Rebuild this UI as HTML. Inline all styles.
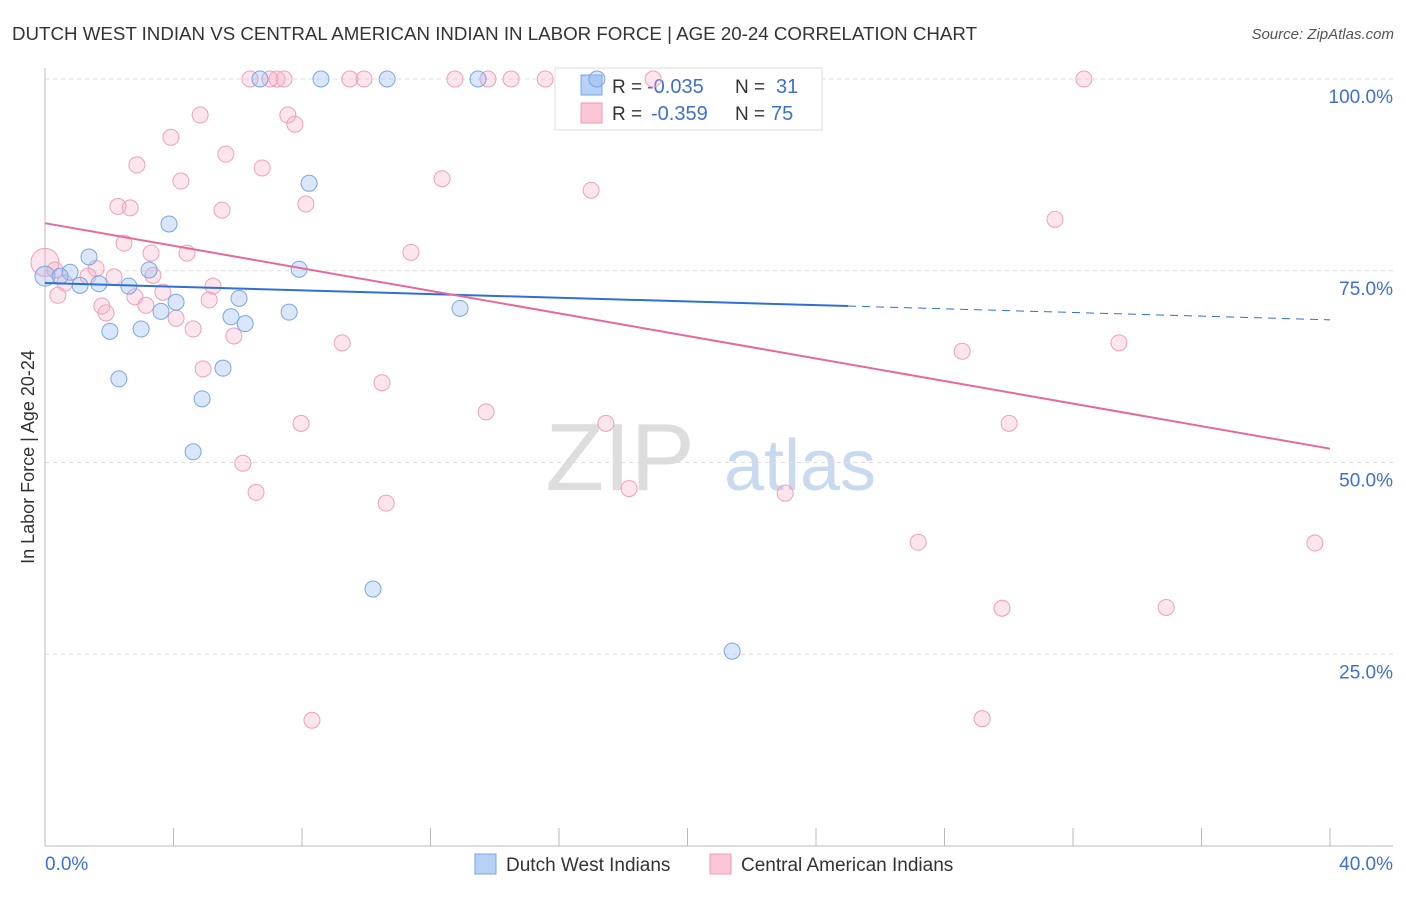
<!DOCTYPE html>
<html><head><meta charset="utf-8"><style>
body{margin:0;background:#fff;font-family:"Liberation Sans",sans-serif;}
svg text{font-family:"Liberation Sans",sans-serif;}
</style></head><body>
<svg id="chart" width="1406" height="892" xmlns="http://www.w3.org/2000/svg">
<text x="12" y="40" font-size="18" fill="#333" textLength="965" lengthAdjust="spacingAndGlyphs">DUTCH WEST INDIAN VS CENTRAL AMERICAN INDIAN IN LABOR FORCE | AGE 20-24 CORRELATION CHART</text>
<text x="1394" y="39" font-size="15" fill="#555" text-anchor="end" font-style="italic">Source: ZipAtlas.com</text>
<text x="620" y="490" font-size="96" fill="#ddd" font-family="Liberation Serif" text-anchor="middle">ZIP</text>
<text x="800" y="490" font-size="72" fill="#c9d9f0" text-anchor="middle">atlas</text>
<g id="grid"></g><g id="axes"></g>
<g>
<rect x="555" y="68" width="267" height="62" fill="#fff" stroke="#ddd"/>
<rect x="581" y="75" width="21" height="20" fill="#b7d0f5" stroke="#7aa5e8"/>
<rect x="581" y="103" width="21" height="20" fill="#fbc6d6" stroke="#f09ab5"/>
<text x="612" y="93" font-size="19" fill="#333">R =</text>
<text x="647" y="93" font-size="20" fill="#3d6fd4">-0.035</text>
<text x="735" y="93" font-size="19" fill="#333">N =</text>
<text x="776" y="93" font-size="20" fill="#3d6fd4">31</text>
<text x="612" y="120" font-size="19" fill="#333">R =</text>
<text x="651" y="120" font-size="20" fill="#3d6fd4">-0.359</text>
<text x="735" y="120" font-size="19" fill="#333">N =</text>
<text x="771" y="120" font-size="20" fill="#3d6fd4">75</text>
</g>
<g id="marks"></g>
<text transform="translate(34,457) rotate(-90)" font-size="18" fill="#333" text-anchor="middle">In Labor Force | Age 20-24</text>
<g>
<rect x="475" y="854" width="21" height="20" fill="#b7d0f5" stroke="#7aa5e8"/>
<text x="506" y="871" font-size="19" fill="#333">Dutch West Indians</text>
<rect x="710" y="854" width="21" height="20" fill="#fbc6d6" stroke="#f09ab5"/>
<text x="741" y="871" font-size="19" fill="#333">Central American Indians</text>
</g>
</svg>
<script>
const yTicks=[25,50,75,100];
const yTickLabels=["25.0%","50.0%","75.0%","100.0%"];
const xEndLabels=["0.0%","40.0%"];
const blueX=[6.69,8.59,10.65,13.48,17.18,8.22,3.86,1.37,3.24,7.91,0.78,0,1.09,1.68,2.61,6.04,4.08,3.61,7.60,5.79,6.23,12.92,2.02,2.99,5.54,2.30,4.89,4.61,10.21,21.39,0.47];
const blueY=[100,100,100,100,100,86.4,81.1,76.8,75.1,75.2,74.8,74.3,73.1,73.3,73.0,71.4,70.9,69.7,69.6,69.0,68.1,70.1,67.1,67.4,62.3,60.9,58.3,51.4,33.5,25.4,74.3];
const pinkX=[6.38,7.22,7.44,7.00,9.49,9.93,12.76,13.79,14.51,15.57,18.93,32.34,4.83,7.56,7.78,3.92,5.63,2.86,6.76,4.23,12.36,17.00,2.27,2.65,5.51,8.12,31.44,2.46,3.30,4.42,11.39,0,0.31,1.59,2.15,3.36,1.34,0.62,5.23,2.80,3.67,5.11,1.77,3.14,1.90,4.08,4.61,5.88,9.25,33.43,28.55,4.92,10.49,13.73,7.97,17.46,30.01,6.16,18.18,6.57,23.04,10.62,27.18,39.53,29.79,34.90,29.17,8.31,0.40];
const pinkY=[100,100,100,100,100,100,100,100,100,100,100,100,95.3,95.3,94.1,92.4,90.2,88.8,88.4,86.7,87.0,85.5,83.4,83.2,82.9,83.7,81.7,78.6,77.3,77.3,77.4,76.1,75.1,75.3,74.2,74.4,74.3,73.4,73.0,71.6,72.2,71.2,70.4,70.5,69.5,68.8,67.4,66.5,65.6,65.6,64.5,62.2,60.4,56.6,55.1,55.1,55.1,49.9,46.6,46.1,46.0,44.7,39.6,39.5,31.0,31.1,16.6,16.4,71.8];
const blueTrend=[73.4,68.6];
const blueSolidEnd=25;
const pinkTrend=[81.2,51.8];
const NS="http://www.w3.org/2000/svg";
const X=v=>45+v/40*1285, Y=v=>846-v/100*767;
function mk(t,a,p){const e=document.createElementNS(NS,t);for(const k in a)e.setAttribute(k,a[k]);p.appendChild(e);return e;}
const grid=document.getElementById('grid'),axes=document.getElementById('axes'),marks=document.getElementById('marks');
yTicks.forEach((t,i)=>{
 const l=mk('line',{x1:45,x2:1393,y1:Y(t),y2:Y(t),stroke:'#ddd','stroke-dasharray':'4,4'},grid);
 
 
 const tx=mk('text',{x:1393,y:Y(t)+24,'font-size':19,fill:'#3d6fd4','text-anchor':'end'},axes);
 tx.textContent=yTickLabels[i];
 
 
});
const ax=mk('line',{x1:45,x2:1393,y1:846,y2:846,stroke:'#bbb'},axes);


const ay=mk('line',{x1:45,x2:45,y1:68,y2:846,stroke:'#bbb'},axes);


for(let i=0;i<=10;i++){const t=mk('line',{x1:X(i*4),x2:X(i*4),y1:828,y2:846,stroke:'#bbb'},axes);
 
 }
const xl0=mk('text',{x:45,y:870,'font-size':19,fill:'#3d6fd4'},axes);xl0.textContent=xEndLabels[0];


const xl1=mk('text',{x:1393,y:870,'font-size':19,fill:'#3d6fd4','text-anchor':'end'},axes);xl1.textContent=xEndLabels[1];


pinkX.forEach((v,i)=>{const c=mk('circle',{cx:X(v),cy:Y(pinkY[i]),r:(v===0?14:8),fill:'rgba(248,170,195,0.3)',stroke:'#f0a0b8','stroke-width':1},marks);
 
 });
blueX.forEach((v,i)=>{const c=mk('circle',{cx:X(v),cy:Y(blueY[i]),r:(v===0?10:8),fill:'rgba(150,185,240,0.35)',stroke:'#7aa5e8','stroke-width':1},marks);
 
 });
const by=x=>blueTrend[0]+(blueTrend[1]-blueTrend[0])*x/40;
const b1=mk('line',{x1:X(0),y1:Y(by(0)),x2:X(blueSolidEnd),y2:Y(by(blueSolidEnd)),stroke:'#2f6fd6','stroke-width':2},marks);


const b2=mk('line',{x1:X(blueSolidEnd),y1:Y(by(blueSolidEnd)),x2:X(40),y2:Y(by(40)),stroke:'#2f6fd6','stroke-width':1,'stroke-dasharray':'8,6'},marks);


const p1=mk('line',{x1:X(0),y1:Y(pinkTrend[0]),x2:X(40),y2:Y(pinkTrend[1]),stroke:'#e8689a','stroke-width':2},marks);


</script>
</body></html>
